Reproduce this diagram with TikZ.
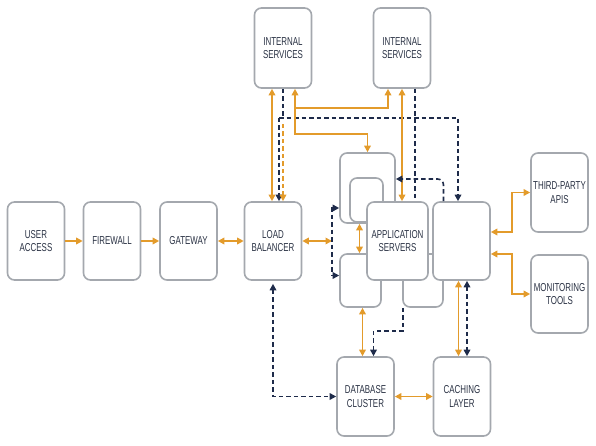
\documentclass[tikz,border=0pt]{standalone}
\usepackage{fontspec}
\setmainfont{Liberation Sans}[FakeStretch=0.69]
\usetikzlibrary{arrows.meta}

\definecolor{boxgray}{HTML}{A4A8AE}
\definecolor{flowamber}{HTML}{E39B2B}
\definecolor{flownavy}{HTML}{1E2B4A}
\definecolor{labelink}{HTML}{2A3244}

\begin{document}
\begin{tikzpicture}[x=1pt,y=-1pt,
    >={Triangle[length=6.5pt,width=6.5pt]},
    box/.style={draw=boxgray,line width=1.6pt,rounded corners=7pt,fill=white,
      align=center,text=labelink,inner sep=0pt,
      font=\fontsize{11.5}{13.5}\selectfont},
    amber/.style={draw=flowamber,line width=1.8pt},
    navy/.style={draw=flownavy,line width=1.6pt,dash pattern=on 4.5pt off 3pt},
    amberdash/.style={draw=flowamber,line width=1.6pt,dash pattern=on 4.5pt off 3pt}]

  \useasboundingbox (0,0) rectangle (596,446);

  % boxes
  \begin{scope}[every node/.style={box,minimum width=57pt,minimum height=78pt}]
    \node (ua) at (36,241) {USER\\ACCESS};
    \node (fw) at (112,241) {FIREWALL};
    \node (gw) at (188.5,241) {GATEWAY};
    \node (lb) at (273,241) {LOAD\\BALANCER};
    \node[minimum height=80pt] (is1) at (283,48) {INTERNAL\\SERVICES};
    \node[minimum height=80pt] (is2) at (402,48) {INTERNAL\\SERVICES};

    % application server stack
    \node[minimum width=55pt,minimum height=70pt] (aptop) at (367.5,188) {};
    \node[minimum width=33pt,minimum height=44pt] (apin) at (366.5,200) {};
    \node[minimum width=41pt,minimum height=53pt] (apbl) at (360.5,280.5) {};
    \node[minimum width=40pt,minimum height=53pt] (apbr) at (423,280.5) {};
    \node[minimum width=61pt] (app) at (397.5,241) {APPLICATION\\SERVERS};
    \node (aprt) at (461.5,241) {};

    \node[minimum height=79pt] (tp) at (559.5,192.5) {THIRD-PARTY\\APIS};
    \node (mon) at (559.5,294) {MONITORING\\TOOLS};
    \node[minimum height=79pt] (db) at (365.5,396.5) {DATABASE\\CLUSTER};
    \node[minimum height=79pt] (cache) at (462,396.5) {CACHING\\LAYER};
  \end{scope}

  \coordinate (fan) at (332,241);
  \coordinate (busw) at (279,118);
  \coordinate (buse) at (458,118);
  \coordinate (odash) at (283,124);

  % main line
  \draw[amber,->] (ua) -- (fw);
  \draw[amber,->] (fw) -- (gw);
  \draw[amber,<->] (gw) -- (lb);
  \draw[amber,<->] (lb.east) -- (fan);
  \draw[navy,<->] ([yshift=-20]aptop.west) -- ++(-7,0) |- ([yshift=5]apbl.west);

  % internal services
  \draw[amber,<->] ([xshift=-1]lb.north) -- ([xshift=-11]is1.south);
  \draw[navy] (is1.south) -- (is1.south |- busw);
  \draw[navy,->] (busw) -- (buse) -- (buse |- aprt.north);
  \draw[navy,->] (busw) -- (busw |- lb.north);
  \draw[amberdash,->] (odash) -- (odash |- lb.north);
  \draw[amber,<->] ([xshift=12]is1.south) -- ++(0,19) -| ([xshift=-14]is2.south);
  \draw[amber,->] ([xshift=12]is1.south) ++(0,19) -- ++(0,26) -| (aptop.north);
  \draw[amber,<->] (is2.south) -- (is2.south |- app.north);
  \draw[navy] ([xshift=13]is2.south) -- ([xshift=13]is2.south |- app.north);
  \draw[navy,->,rounded corners=6pt] ([xshift=-18]aprt.north) |- ([yshift=9]aptop.east);

  % inside the stack
  \draw[amber,<->] ([xshift=-8]aptop.south) -- ([xshift=-8]aptop.south |- apbl.north);

  % data layer
  \draw[amber,<->] ([xshift=2]apbl.south) -- ([xshift=2]apbl.south |- db.north);
  \draw[navy,->] ([xshift=-20]apbr.south) -- ++(0,23) -| ([xshift=8]db.north);
  \draw[amber,<->] ([xshift=-3]aprt.south) -- ([xshift=-3]aprt.south |- cache.north);
  \draw[navy,<->] ([xshift=5.5]aprt.south) -- ([xshift=5.5]aprt.south |- cache.north);
  \draw[amber,<->] (db) -- (cache);
  \draw[navy,<->,shorten <=3pt] (lb.south) |- (db.west);

  % outside services
  \draw[amber,<->] ([yshift=9]aprt.east) -- ++(21,0) |- (tp.west);
  \draw[amber,<->] ([yshift=-13]aprt.east) -- ++(21,0) |- (mon.west);

\end{tikzpicture}
\end{document}
